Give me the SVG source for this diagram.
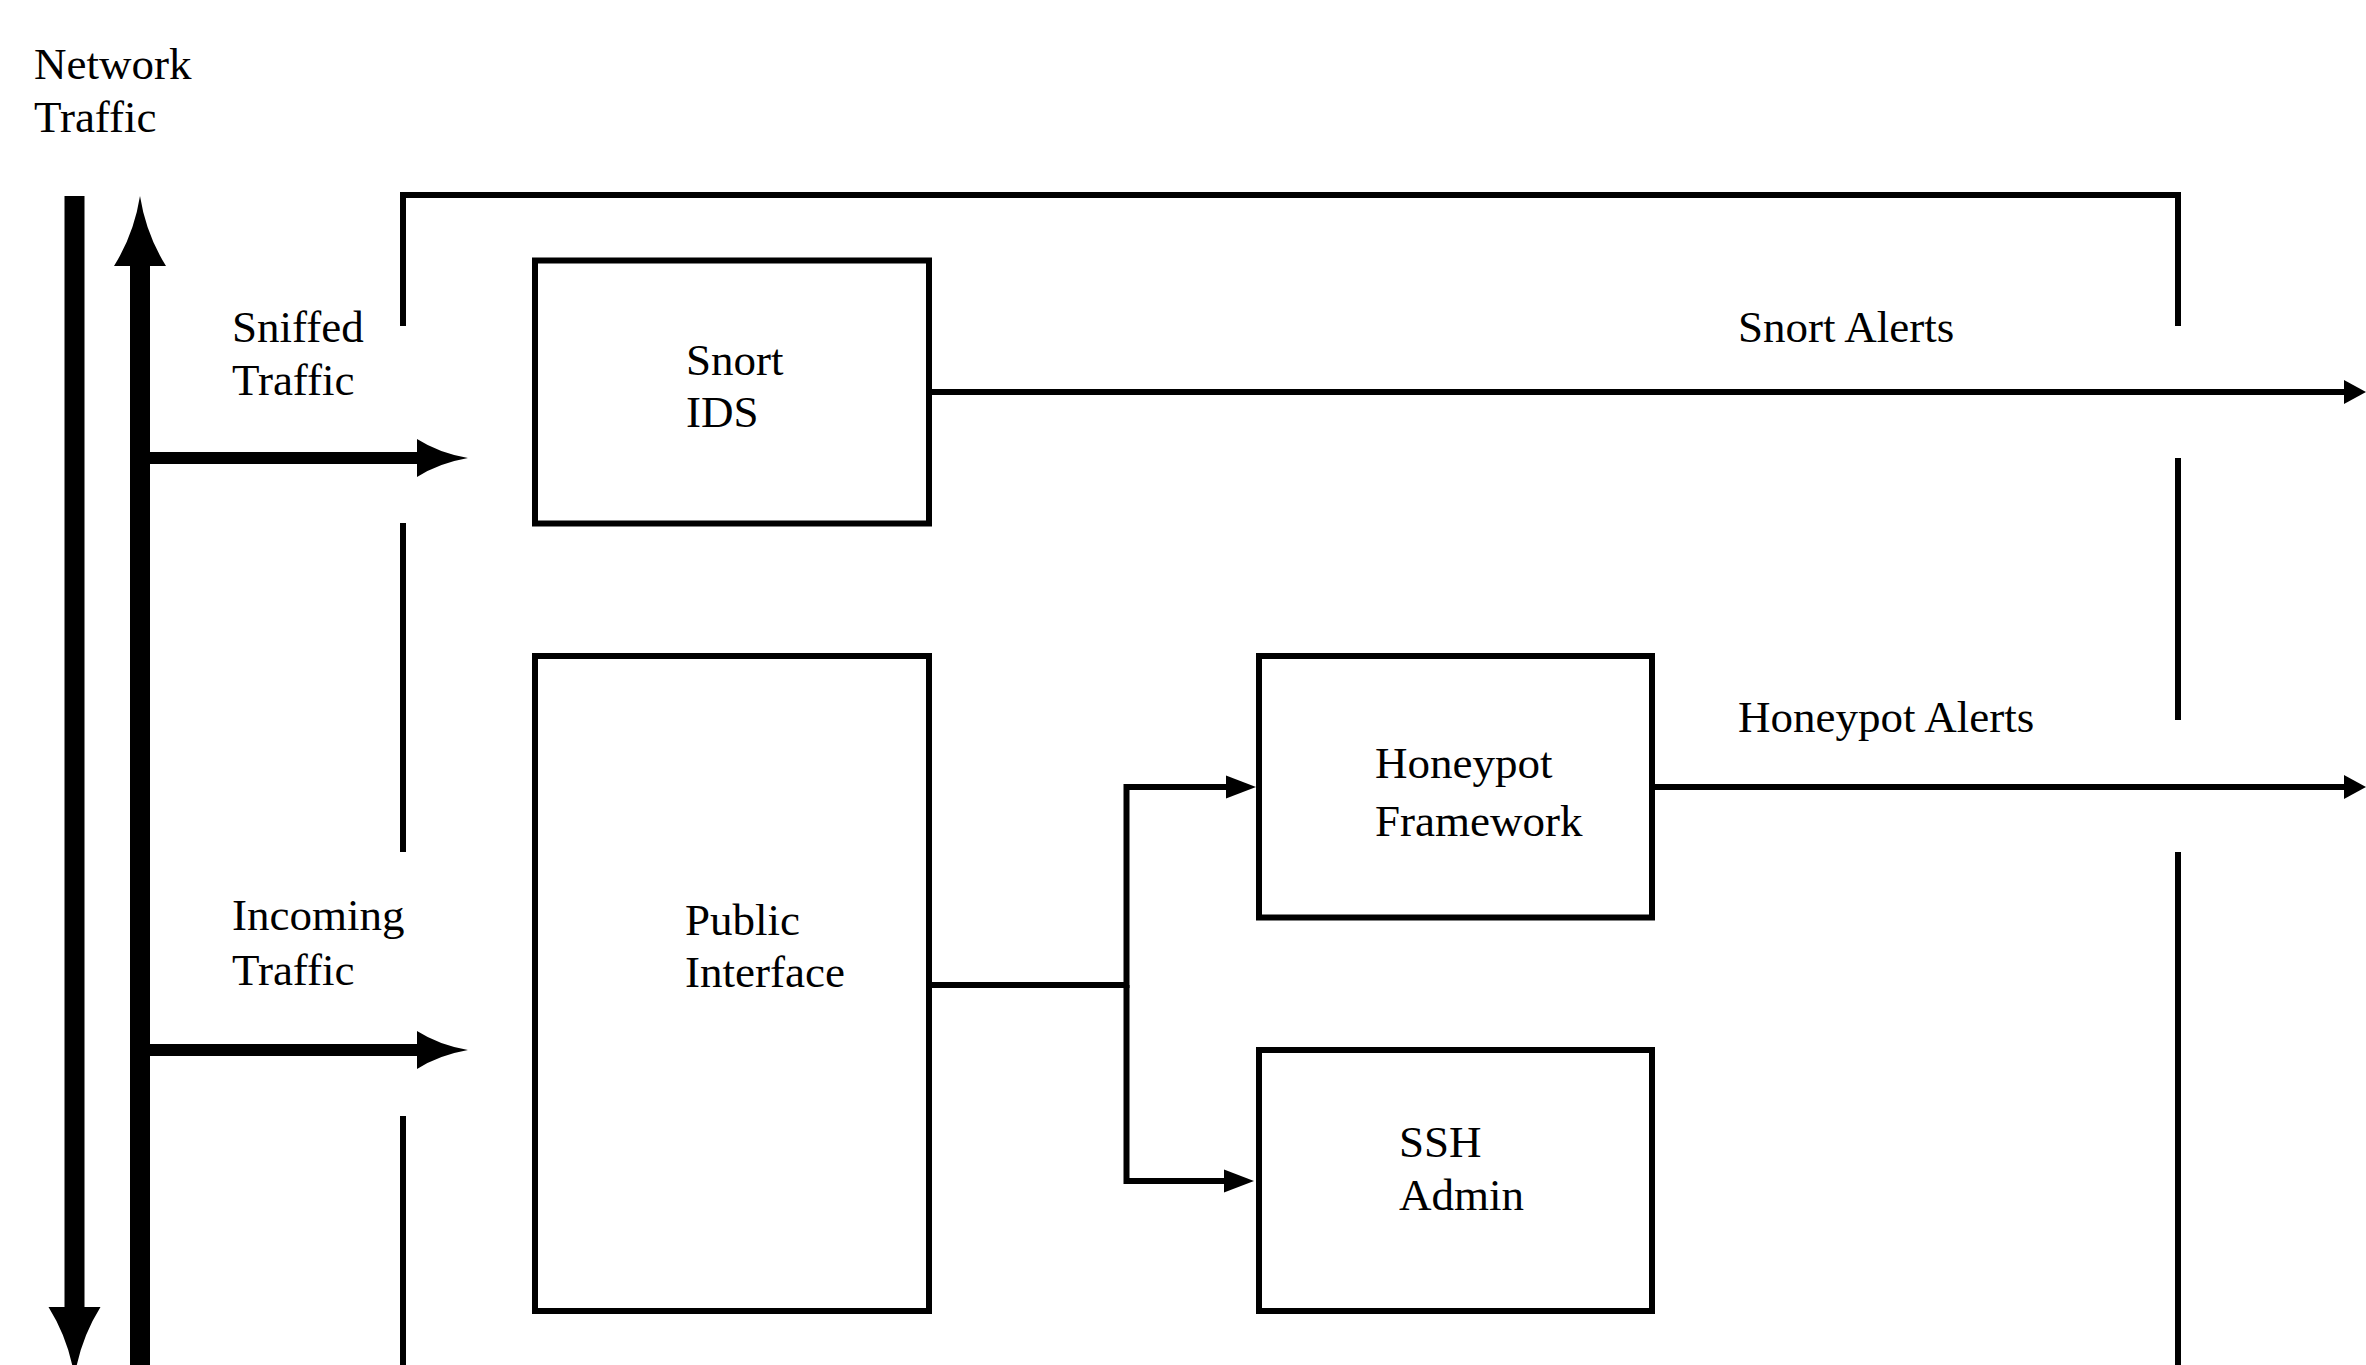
<svg xmlns="http://www.w3.org/2000/svg" width="2366" height="1365" viewBox="0 0 2366 1365">
<style>
text{font-family:"Liberation Serif","Times New Roman",serif;font-size:45px;fill:#000}
.box{fill:none;stroke:#000;stroke-width:6}
.thin{fill:none;stroke:#000;stroke-width:6}
.frame{fill:none;stroke:#000;stroke-width:6;stroke-linejoin:miter}
.bus{fill:none;stroke:#000;stroke-width:20}
.tap{fill:none;stroke:#000;stroke-width:12}
</style>
<defs>
<marker id="ah" markerUnits="userSpaceOnUse" viewBox="0 -12 30 24" markerWidth="30" markerHeight="24" refX="0" refY="0" orient="auto"><path d="M0,-11.5 L30,0 L0,11.5 Z" fill="#000"/></marker>
<marker id="ahOut" markerUnits="userSpaceOnUse" viewBox="0 -12 22 24" markerWidth="22" markerHeight="24" refX="0" refY="0" orient="auto"><path d="M0,-12 L22,0 L0,12 Z" fill="#000"/></marker>
<marker id="ahTap" markerUnits="userSpaceOnUse" viewBox="0 -20 52 40" markerWidth="52" markerHeight="40" refX="0" refY="0" orient="auto"><path d="M0,-19 Q22,-5 51,0 Q22,5 0,19 Z" fill="#000"/></marker>
<marker id="ahBus" markerUnits="userSpaceOnUse" viewBox="0 -27 72 54" markerWidth="72" markerHeight="54" refX="0" refY="0" orient="auto"><path d="M0,-26 Q32,-6 70,0 Q32,6 0,26 Z" fill="#000"/></marker>
</defs>

<g id="labels">
<text x="34" y="79">Network</text>
<text x="34" y="132">Traffic</text>
<text x="232" y="342">Sniffed</text>
<text x="232" y="395">Traffic</text>
<text x="232" y="930">Incoming</text>
<text x="232" y="985">Traffic</text>
<text x="1738" y="342">Snort Alerts</text>
<text x="1738" y="732">Honeypot Alerts</text>
</g>

<g id="connectors">
<path class="frame" d="M403,326 V195 H2178 V326"/>
<path class="frame" d="M403,523 V852"/>
<path class="frame" d="M403,1116 V1365"/>
<path class="frame" d="M2178,458 V720"/>
<path class="frame" d="M2178,852 V1365"/>
<path class="bus" d="M140,1370 V266" marker-end="url(#ahBus)"/>
<path class="bus" d="M74.5,196 V1307" marker-end="url(#ahBus)"/>
<path class="tap" d="M140,458 H417" marker-end="url(#ahTap)"/>
<path class="tap" d="M140,1050 H417" marker-end="url(#ahTap)"/>
<path class="thin" d="M929,392 H2344" marker-end="url(#ahOut)"/>
<path class="thin" d="M1652,787 H2344" marker-end="url(#ahOut)"/>
<path class="thin" d="M929,985 H1126.5 V787 H1226" marker-end="url(#ah)"/>
<path class="thin" d="M1126.5,985 V1181 H1224" marker-end="url(#ah)"/>
</g>

<g id="snort-ids">
<rect class="box" x="535" y="260.5" width="394" height="263"/>
<text x="686" y="375">Snort</text>
<text x="686" y="427">IDS</text>
</g>
<g id="public-interface">
<rect class="box" x="535" y="656" width="394" height="655"/>
<text x="685" y="935">Public</text>
<text x="685" y="987">Interface</text>
</g>
<g id="honeypot-framework">
<rect class="box" x="1259" y="656" width="393" height="261.5"/>
<text x="1375" y="778">Honeypot</text>
<text x="1375" y="836">Framework</text>
</g>
<g id="ssh-admin">
<rect class="box" x="1259" y="1050" width="393" height="261"/>
<text x="1399" y="1157">SSH</text>
<text x="1399" y="1210">Admin</text>
</g>
</svg>
